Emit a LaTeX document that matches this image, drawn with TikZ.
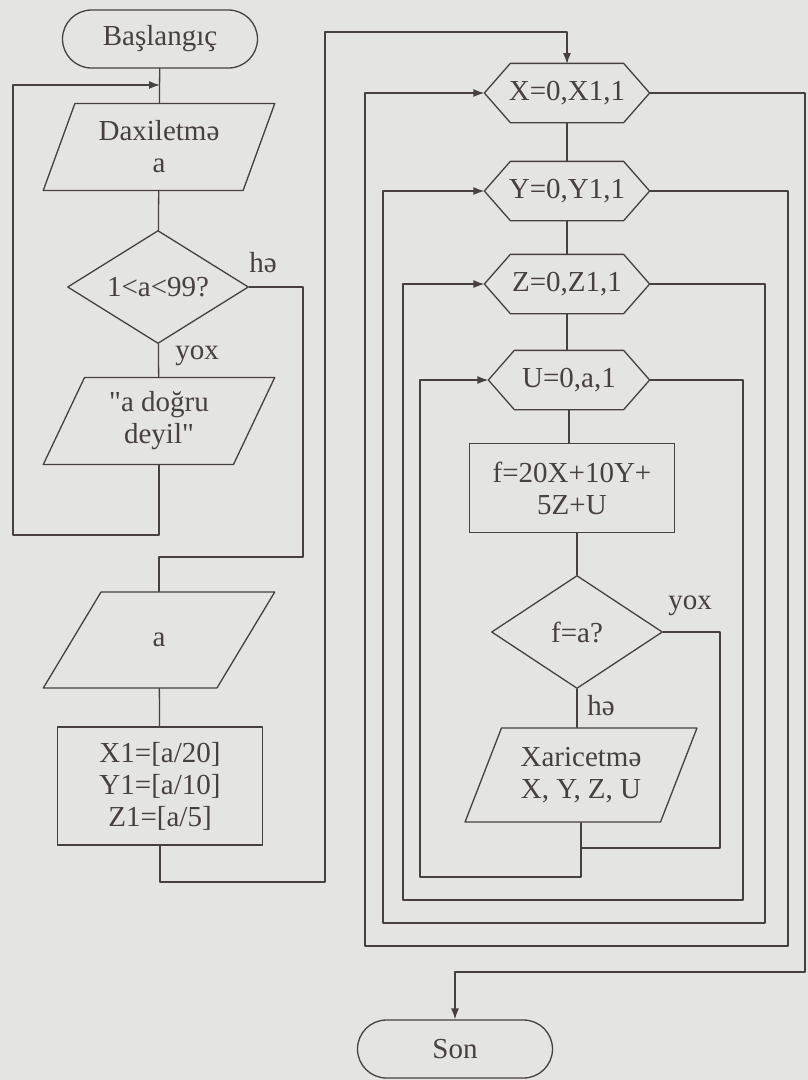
\documentclass[tikz,border=0pt]{standalone}
\usepackage{fontspec}
\newfontfamily\flowfont{Liberation Serif}
\usetikzlibrary{shapes.geometric,arrows.meta}
\definecolor{paper}{RGB}{228,228,225}
\definecolor{ink}{RGB}{70,64,64}

\begin{document}
\begin{tikzpicture}[x=1pt,y=-1pt,line width=1.3pt,color=ink,
  line cap=round,line join=round,
  font=\flowfont\fontsize{29}{32}\selectfont,
  every node/.style={align=center,inner sep=1pt},
  term/.style={draw,rectangle,rounded corners=29pt,
    minimum width=195pt,minimum height=58pt},
  io/.style={draw,trapezium,trapezium left angle=65,
    trapezium right angle=115,trapezium stretches=true,
    minimum width=232pt},
  cond/.style={draw,diamond,aspect=1.6,minimum height=113pt},
  proc/.style={draw,rectangle},
  loopnode/.style={rectangle,minimum width=164pt,minimum height=58pt},
  arr/.style={-{Latex[length=11pt,width=8pt]}}]
  \fill[paper] (0,0) rectangle (808,1080);
  % left column
  \node[term] (start) at (160,39) {Başlangıç};
  \node[io,trapezium left angle=67,trapezium right angle=113,
    minimum height=87pt] (inp) at (159,147) {Daxiletmə\\a};
  \node[cond,minimum width=181pt] (chk) at (158,287) {1<a<99?};
  \node[io,minimum height=87pt] (msg) at (159,421) {"a doğru\\deyil"};
  \node[io,minimum height=96pt] (rda) at (159,640) {a};
  \node[proc,minimum width=205pt,minimum height=118pt] (lim) at (160,786)
    {X1=[a/20]\\Y1=[a/10]\\Z1=[a/5]};
  \node (ha1) at (263,263) {hə};
  \node (yox1) at (197,356) {yox};
  \coordinate (in0) at (160,85);
  \draw (start) -- (inp);
  \draw[arr] (msg.south) |- (13,535) |- (in0);
  \draw (inp) -- (chk);
  \draw (chk) -- (msg);
  \draw (chk.east) -| (303,557) -| (rda.north);
  \draw (rda) -- (lim);
  \draw[arr] (lim.south) |- (325,882) |- (567,32) -- (567,64);
  % right column
  \node[loopnode] (lx) at (567,93) {X=0,X1,1};
  \node[loopnode] (ly) at (567,191) {Y=0,Y1,1};
  \node[loopnode] (lz) at (567,284) {Z=0,Z1,1};
  \node[loopnode,minimum width=160pt] (lu) at (569,380) {U=0,a,1};
  \foreach \n in {lx,ly,lz,lu}
    \draw (\n.west) -- ([xshift=26pt]\n.north west)
      -- ([xshift=-26pt]\n.north east) -- (\n.east)
      -- ([xshift=-26pt]\n.south east) -- ([xshift=26pt]\n.south west)
      -- cycle;
  \node[proc,minimum width=205pt,minimum height=89pt] (sum) at (572,488)
    {f=20X+10Y+\\5Z+U};
  \node[cond,minimum width=171pt] (eq) at (577,632) {f=a?};
  \node[io,trapezium left angle=64,trapezium right angle=116,
    minimum height=94pt] (out) at (581,775) {Xaricetmə\\X, Y, Z, U};
  \node[term] (stop) at (455,1049) {Son};
  \node (yox2) at (690,606) {yox};
  \node (ha2) at (601,706) {hə};
  \draw (lx) -- (ly);
  \draw (ly) -- (lz);
  \draw (lz.south) -- (lz.south |- lu.north);
  \draw (lu.south) -- (lu.south |- sum.north);
  \draw (eq.north |- sum.south) -- (eq.north);
  \draw (eq.south) -- (eq.south |- out.north);
  \draw (eq.east) -| (720,848) -- (out.south |- 0,848);
  \draw[arr] (out.south) |- (420,877) |- (lu.west);
  \foreach \from/\to/\r/\b/\l in
   {lu/lz/743/900/403,lz/ly/765/923/383,ly/lx/788/946/365}
    \draw[arr] (\from.east) -| (\r,\b) -- (\l,\b) |- (\to.west);
  \draw[arr] (lx.east) -| (805,972) -| (stop.north);
\end{tikzpicture}
\end{document}
